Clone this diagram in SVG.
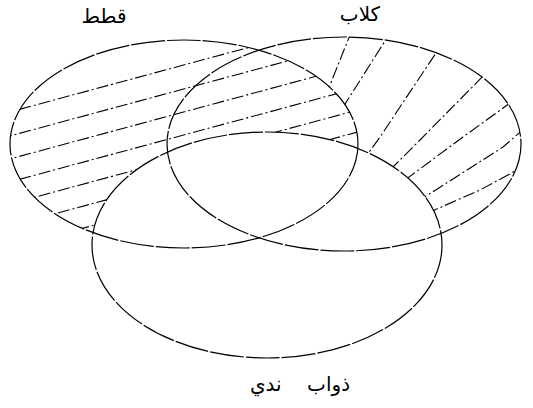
<svg xmlns="http://www.w3.org/2000/svg" width="533" height="408" viewBox="0 0 533 408">
<style>
.set{fill:none;stroke:#000;stroke-width:1.2;stroke-dasharray:34 2}
.hatch{fill:none;stroke:#000;stroke-width:1.1;stroke-dasharray:12 3 2 3}
.lbl{font-family:"DejaVu Sans","Noto Sans",sans-serif;fill:#000}
</style>
<defs>
<mask id="mLeft" maskUnits="userSpaceOnUse" x="0" y="0" width="533" height="408">
<ellipse cx="184" cy="144" rx="174" ry="104" fill="#fff"/>
<ellipse cx="267" cy="245" rx="175" ry="113" fill="#000"/>
</mask>
<mask id="mRight" maskUnits="userSpaceOnUse" x="0" y="0" width="533" height="408">
<ellipse cx="344" cy="144" rx="177" ry="107" fill="#fff"/>
<ellipse cx="184" cy="144" rx="174" ry="104" fill="#000"/>
<ellipse cx="267" cy="245" rx="175" ry="113" fill="#000"/>
</mask>
</defs>
<rect width="533" height="408" fill="#fff"/>
<g id="hatch-left" mask="url(#mLeft)">
<line class="hatch" x1="0" y1="114.6" x2="380" y2="12"/>
<line class="hatch" x1="0" y1="138.6" x2="380" y2="36"/>
<line class="hatch" x1="0" y1="161.6" x2="380" y2="59"/>
<line class="hatch" x1="0" y1="184.6" x2="380" y2="82"/>
<line class="hatch" x1="0" y1="206.6" x2="380" y2="104"/>
<line class="hatch" x1="0" y1="228.6" x2="380" y2="126"/>
<line class="hatch" x1="0" y1="250.6" x2="380" y2="148"/>
</g>
<g id="hatch-right" mask="url(#mRight)">
<polyline class="hatch" points="352,30 326,95"/>
<polyline class="hatch" points="392,30 340,112"/>
<polyline class="hatch" points="446,38 380,137 362,162"/>
<polyline class="hatch" points="497,62 420,140 388,172"/>
<polyline class="hatch" points="528,90 463,137 405,180"/>
<polyline class="hatch" points="540,115 503,147 420,200"/>
<polyline class="hatch" points="545,155 480,190 430,212"/>
<polyline class="hatch" points="535,176 497,213 440,242"/>
</g>
<g id="cats">
<ellipse class="set" cx="184" cy="144" rx="174" ry="104"/>
<text class="lbl" x="104" y="23" font-size="20" text-anchor="middle">قطط</text>
</g>
<g id="dogs">
<ellipse class="set" cx="344" cy="144" rx="177" ry="107"/>
<text class="lbl" x="360" y="21" font-size="20" text-anchor="middle">كلاب</text>
</g>
<g id="mammals">
<ellipse class="set" cx="267" cy="245" rx="175" ry="113"/>
<text class="lbl" x="300" y="391" font-size="20" text-anchor="middle" xml:space="preserve">ذواب    ندي</text>
</g>
</svg>
